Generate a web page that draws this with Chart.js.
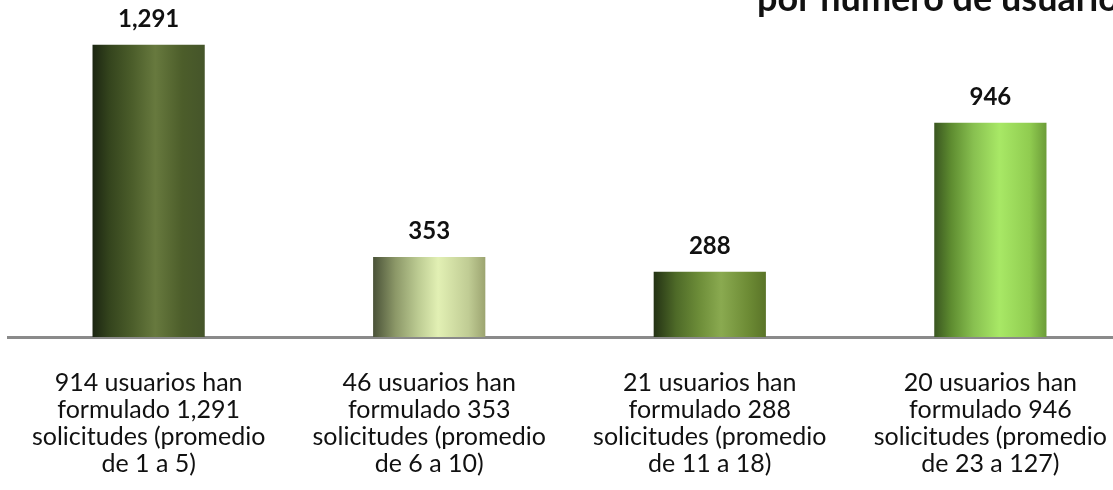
<!DOCTYPE html>
<html>
<head>
<meta charset="utf-8">
<script src="https://cdn.jsdelivr.net/npm/chart.js@4"></script>
<style>
  html, body { margin: 0; padding: 0; background: #fff; overflow: hidden; }
  #wrap { position: relative; width: 1113px; height: 490px; overflow: hidden; }
  canvas { position: absolute; left: 0; top: 0; }
</style>
</head>
<body>
<div id="wrap">
  <canvas id="myChart" width="1139" height="522"></canvas>
</div>
<script>
// data
const categories = [
  ["914 usuarios han", "formulado 1,291", "solicitudes (promedio", "de 1 a 5)"],
  ["46 usuarios han", "formulado 353", "solicitudes (promedio", "de 6 a 10)"],
  ["21 usuarios han", "formulado 288", "solicitudes (promedio", "de 11 a 18)"],
  ["20 usuarios han", "formulado 946", "solicitudes (promedio", "de 23 a 127)"]
];
const solicitudes = [1291, 353, 288, 946];
const titleText = "por número de usuarios";

// gradient stops per bar (cylinder look)
const barStops = [
  [[0, "#1c2612"], [0.15, "#34441d"], [0.35, "#4b5d2a"], [0.56, "#67793e"], [0.8, "#4c5d2a"], [1, "#45552a"]],
  [[0, "#4a5238"], [0.2, "#8c9868"], [0.4, "#bccb92"], [0.58, "#e2f0b4"], [0.85, "#c0cc94"], [1, "#9ca470"]],
  [[0, "#243214"], [0.2, "#4e6a28"], [0.4, "#6c8c38"], [0.6, "#8aaa50"], [0.85, "#6c8a34"], [1, "#5a7428"]],
  [[0, "#3a5620"], [0.15, "#5e8c30"], [0.35, "#88c050"], [0.58, "#a8e866"], [0.85, "#90cc50"], [1, "#6c9c38"]]
];

const FONT = "Lato, 'Open Sans', sans-serif";

function barGradient(context) {
  const chart = context.chart;
  const xs = chart.scales.x;
  if (!chart.chartArea || !xs) return barStops[context.dataIndex][3][1];
  const w = (xs.width / categories.length) * 0.4;
  const cx = xs.getPixelForValue(context.dataIndex);
  const g = chart.ctx.createLinearGradient(cx - w / 2, 0, cx + w / 2, 0);
  barStops[context.dataIndex].forEach(s => g.addColorStop(s[0], s[1]));
  return g;
}

// value labels above bars + title
const labelsPlugin = {
  id: "valueLabels",
  afterDatasetsDraw(chart) {
    const { ctx } = chart;
    const meta = chart.getDatasetMeta(0);
    ctx.save();
    ctx.fillStyle = "#111";
    ctx.font = "bold 24px " + FONT;
    ctx.textAlign = "center";
    ctx.textBaseline = "alphabetic";
    meta.data.forEach((bar, i) => {
      ctx.fillText(solicitudes[i].toLocaleString("en-US"), bar.x, bar.y - 18);
    });
    ctx.font = "bold 36px " + FONT;
    ctx.textAlign = "left";
    ctx.fillText(titleText, 757, 11);
    ctx.restore();
  }
};

const ctx = document.getElementById("myChart");
new Chart(ctx, {
  type: "bar",
  data: {
    labels: categories,
    datasets: [{
      data: solicitudes,
      backgroundColor: barGradient,
      borderWidth: 0,
      barPercentage: 0.4,
      categoryPercentage: 1
    }]
  },
  options: {
    responsive: false,
    animation: false,
    layout: { padding: { top: 20, left: 8, right: 0, bottom: 13 } },
    plugins: {
      legend: { display: false },
      tooltip: { enabled: false }
    },
    scales: {
      x: {
        grid: { display: false, drawTicks: false },
        border: { display: true, color: "#8a8a8a", width: 3 },
        ticks: {
          padding: 32,
          color: "#111",
          maxRotation: 0,
          autoSkip: false,
          font: { family: FONT, size: 25, lineHeight: "27px" }
        }
      },
      y: {
        display: false,
        min: 0,
        max: 1400
      }
    }
  },
  plugins: [labelsPlugin]
});
</script>
</body>
</html>
